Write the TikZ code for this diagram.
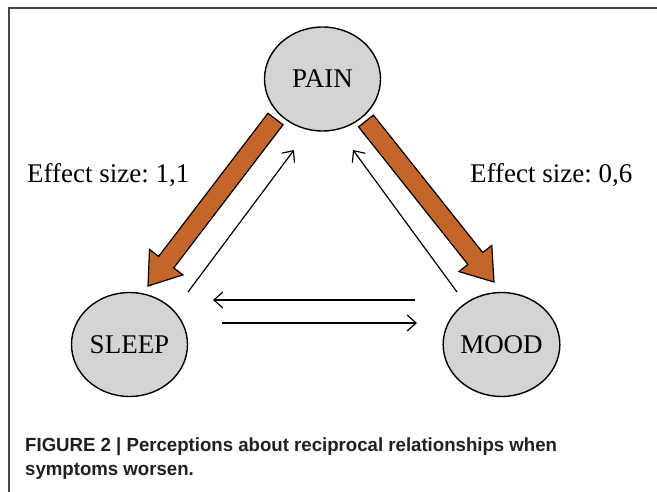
\documentclass[tikz,border=0pt]{standalone}
\usepackage{fontspec}
\setmainfont{Liberation Serif}
\newfontfamily\capfont[FakeStretch=0.98]{Liberation Sans}
\usetikzlibrary{calc,arrows.meta,shapes.geometric}
\definecolor{nodegray}{RGB}{211,212,212}
\definecolor{fatorange}{RGB}{196,101,42}
\definecolor{framegray}{RGB}{70,70,70}
\definecolor{captiongray}{RGB}{35,31,32}
\tikzset{
  blob/.style={ellipse, draw=black, line width=1.4pt, fill=nodegray, inner sep=0pt,
    minimum width=116pt, minimum height=104pt, font=\fontsize{27}{30}\selectfont},
  thinarrow/.style={draw=black, line width=1.2pt, -{Straight Barb[length=9pt,width=16pt,line width=1.2pt]}},
  fatbody/.style={draw=black, line width=1.2pt, fill=fatorange, line join=miter},
  efftext/.style={inner sep=0pt, anchor=base west, font=\fontsize{27}{30}\selectfont},
  captext/.style={inner sep=0pt, anchor=base west, font=\capfont\bfseries\fontsize{19}{22}\selectfont, text=captiongray}
}
\newcommand\fatarrow[2]{%
  \coordinate (fah) at ($(#2)!30pt!(#1)$);
  \draw[fatbody] ($(#1)!9.5pt!90:(#2)$) -- ($(fah)!9.5pt!-90:(#1)$) -- ($(fah)!21pt!-90:(#1)$) -- (#2)
     -- ($(fah)!21pt!90:(#1)$) -- ($(fah)!9.5pt!90:(#1)$) -- ($(#1)!9.5pt!-90:(#2)$) -- cycle;
}
\begin{document}
\begin{tikzpicture}[x=1pt,y=-1pt]
\useasboundingbox (0,0) rectangle (657,492);
\fill[white] (0,0) rectangle (657,492);
% frame
\coordinate (fr1) at (657,8.5);
\coordinate (fr2) at (8.5,8.5);
\coordinate (fr3) at (8.5,492);
\draw[framegray, line width=2pt] (fr1) -- (fr2) -- (fr3);
% nodes
\node[blob] (pain) at (322.5,79) {PAIN};
\node[blob] (sleep) at (129.5,344.5) {SLEEP};
\node[blob] (mood) at (501.5,344.5) {MOOD};
% fat arrows
\coordinate (fl1) at (275.5,119);
\coordinate (fl2) at (148,286);
\coordinate (fr1s) at (366,121);
\coordinate (fr2t) at (494,282);
\fatarrow{fl1}{fl2}
\fatarrow{fr1s}{fr2t}
% thin arrows
\coordinate (ta1) at (188,292);
\coordinate (ta2) at (294,150);
\coordinate (tb1) at (457,292);
\coordinate (tb2) at (353,150);
\coordinate (tc1) at (415,300);
\coordinate (tc2) at (213,300);
\coordinate (td1) at (222,323);
\coordinate (td2) at (417,323);
\draw[thinarrow] (ta1) -- (ta2);
\draw[thinarrow] (tb1) -- (tb2);
\draw[thinarrow] (tc1) -- (tc2);
\draw[thinarrow] (td1) -- (td2);
% labels
\node[efftext] (e1) at (27,183) {Effect size:\ 1,1};
\node[efftext] (e2) at (470,183) {Effect size:\ 0,6};
% caption
\node[captext] (c1) at (25,451.5) {FIGURE 2 | Perceptions about reciprocal relationships when};
\node[captext] (c2) at (25,475.5) {symptoms worsen.};
\end{tikzpicture}
\end{document}
